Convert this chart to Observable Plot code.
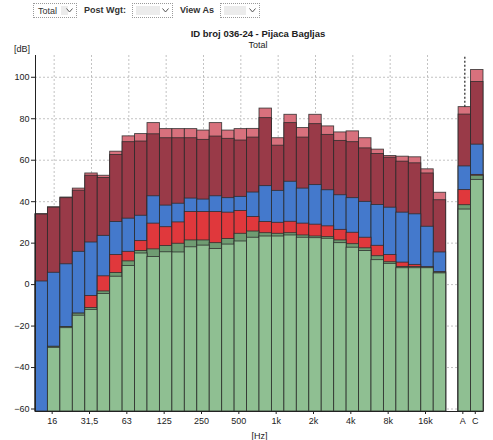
<!DOCTYPE html>
<html>
<head>
<meta charset="utf-8">
<script src="https://cdn.jsdelivr.net/npm/d3@7"></script>
<script src="https://cdn.jsdelivr.net/npm/@observablehq/plot@0.6"></script>
<style>
  body { margin:0; background:#fff; width:493px; height:440px; overflow:hidden; font-family:"Liberation Sans", Arial, sans-serif; color:#222; }
  #hdr { position:relative; width:493px; height:52px; }
  .box { position:absolute; top:3px; height:15px; border:1px dotted #9a9a9a; background:#fff; font-size:9px; line-height:14px; box-sizing:border-box; color:#333; }
  .box .ph { position:absolute; left:3px; top:2px; bottom:2px; background:#ececec; }
  .box svg { position:absolute; right:3px; top:4px; }
  .lbl { position:absolute; top:5px; font-size:9px; font-weight:bold; color:#333; }
  #title { position:absolute; left:0; width:516px; top:28px; text-align:center; font-size:9.5px; font-weight:bold; }
  #sub { position:absolute; left:0; width:516px; top:40px; text-align:center; font-size:9px; }
  #db { position:absolute; left:14px; top:44px; font-size:9px; }
</style>
</head>
<body>
<div id="hdr">
  <div class="box" style="left:33px;width:44px;"><span style="position:absolute;left:4px;">Total</span><div class="ph" style="left:27px;width:7px;"></div><svg width="7" height="5"><polyline points="0.5,0.5 3.5,4 6.5,0.5" fill="none" stroke="#555" stroke-width="1"/></svg></div>
  <div class="lbl" style="left:84px;">Post Wgt:</div>
  <div class="box" style="left:132px;width:41px;"><div class="ph" style="width:24px;"></div><svg width="7" height="5"><polyline points="0.5,0.5 3.5,4 6.5,0.5" fill="none" stroke="#555" stroke-width="1"/></svg></div>
  <div class="lbl" style="left:180px;">View As</div>
  <div class="box" style="left:220px;width:40px;"><div class="ph" style="width:22px;"></div><svg width="7" height="5"><polyline points="0.5,0.5 3.5,4 6.5,0.5" fill="none" stroke="#555" stroke-width="1"/></svg></div>
  <div id="title">ID broj 036-24 - Pijaca Bagljas</div>
  <div id="sub">Total</div>
  <div id="db">[dB]</div>
</div>
<div id="chart"></div>
<script>
// Bands: third-octave centre frequencies, then broadband A and C
const freqs = ["12.5","16","20","25","31.5","40","50","63","80","100","125","160","200","250","315","400","500","630","800","1k","1.25k","1.6k","2k","2.5k","3.15k","4k","5k","6.3k","8k","10k","12.5k","16k","20k"];
const broadband = ["A","C"];
const gapKey = " ";
const tickLabels = ["16","31.5","63","125","250","500","1k","2k","4k","8k","16k","A","C"];
const yTicks = [-60,-40,-20,0,20,40,60,80,100];

// Layer levels (dB), one value per band (33 freqs + A + C); null = layer not shown
const capLevel    = [34,37.3,42,46.3,53.6,52.5,64.1,71.5,72.6,77.9,75,75,75,74.3,77.9,74.3,75,75.1,84.9,70.6,81.9,75.5,81.9,76.3,73.4,73.9,70.6,65.1,62,61.7,61.4,55.6,44.3, 85.6,103.5];
const maroonLevel = [33.8,37.1,41.7,45.3,52.5,51.4,62.5,68.7,69,72.5,70.6,70.6,70.6,69.8,71.4,70.3,69.5,70.9,80.3,67,77.9,70.9,77.4,72.2,69.3,68.7,65.7,63,61.2,59.3,58.5,53.6,40.7, 82,97.7];
const blueLevel   = [1.5,5.7,9.8,15.8,20.3,23.5,30.2,31.8,33.2,42.6,38.1,39,41.5,41,42.6,41.7,42.3,44.4,47.5,45.2,49.6,46.3,48,45.5,43.1,41.7,39.9,38.4,37.1,34.7,33.9,27.9,15.5, 57,67.5];
const redLevel    = [null,-30,-20.5,-14,-5.5,4,14.3,15.8,21,29.4,27.7,30,35,35,35,34.7,35.5,32.6,30.2,29.8,30.3,29.4,28.9,28.1,26.4,25,22.6,18.7,14.3,10.6,9.5,8.4,6, 45.6,52.9];
const dkGreenLevel= [null,-30,-20.5,-14,-11.3,-3.3,5.6,11.2,16.2,17,18.6,19.7,21.3,21.3,20,22,24.5,25.6,24.8,24.5,24.8,23.7,23.2,22.9,21.3,19.5,17.5,13.7,10.8,8.5,8.5,8.2,5.8, 38.3,52.5];
const greenLevel  = [null,-30.5,-21,-15,-12.2,-4.5,3.8,9,15,13.3,15.6,15.5,18,18.8,17.2,19.3,20.8,22.6,23.2,23.2,23.7,22.6,22.4,22.1,20,17.8,16.2,11.8,10,7.9,7.9,7.9,5.4, 36.2,50.5];

const Y_MIN = -61.2, Y_MAX = 110.5;
const bands = [...freqs, ...broadband];
const domainX = [...freqs, gapKey, ...broadband];

const layers = [
  {values: capLevel,     fill: "#d8717d"},
  {values: maroonLevel,  fill: "#993a48"},
  {values: blueLevel,    fill: "#4479cc"},
  {values: redLevel,     fill: "#e0383c"},
  {values: dkGreenLevel, fill: "#6f9c72"},
  {values: greenLevel,   fill: "#8fbf92"}
];
const rows = (vals) => bands.map((b, i) => ({band: b, v: vals[i]})).filter(d => d.v != null);

const marks = [
  Plot.gridY(yTicks, {stroke: "#888", strokeOpacity: 0.5, strokeDasharray: "2,2"}),
  Plot.gridX(tickLabels.filter(t => freqs.includes(t)), {stroke: "#888", strokeOpacity: 0.5, strokeDasharray: "2,2"}),
  ...layers.map(L => Plot.barY(rows(L.values), {x: "band", y1: () => Y_MIN, y2: "v", fill: L.fill, stroke: "#2a2a2a", strokeWidth: 0.9, strokeOpacity: 0.85, inset: 0})),
  Plot.ruleX([broadband[0]], {y1: capLevel[freqs.length], y2: Y_MAX, stroke: "#222", strokeDasharray: "2,2", strokeWidth: 1.2}),
  Plot.ruleY([Y_MIN], {stroke: "#222"}),
  Plot.frame({anchor: "left", stroke: "#222"}),
  Plot.axisY(yTicks, {tickSize: 4, tickPadding: 2, label: null, fontSize: 9}),
  Plot.axisX(tickLabels, {tickSize: 3, tickPadding: 3, dx: -2, tickFormat: d => d === "31.5" ? "31,5" : d, label: "[Hz]", labelAnchor: "center", labelArrow: "none", labelOffset: 27, fontSize: 9})
];

const chart = Plot.plot({
  width: 493,
  height: 388,
  marginLeft: 35,
  marginRight: 10,
  marginTop: 3,
  marginBottom: 29,
  style: {fontFamily: "Liberation Sans, Arial, sans-serif", fontSize: "9px", color: "#222", background: "#fff"},
  x: {type: "band", domain: domainX, padding: 0, round: false},
  y: {domain: [Y_MIN, Y_MAX]},
  marks
});
document.getElementById("chart").appendChild(chart);
</script>
</body>
</html>
